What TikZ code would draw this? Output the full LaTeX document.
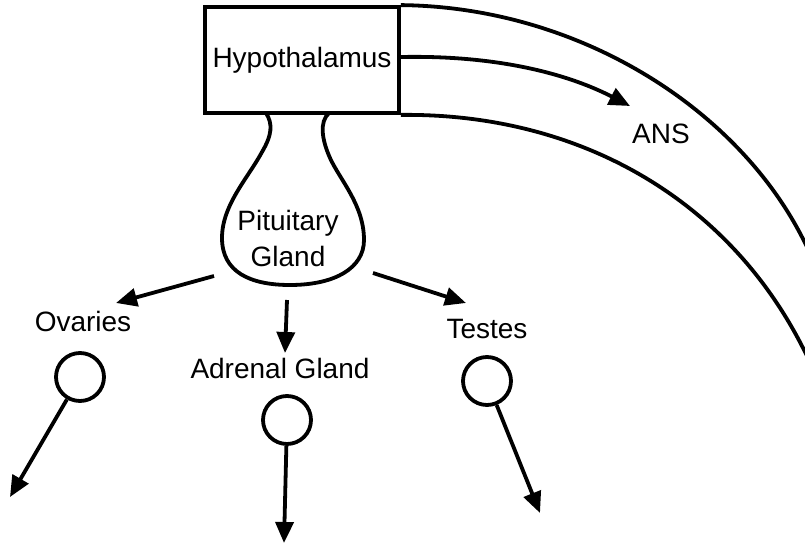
\documentclass[tikz,border=0pt]{standalone}
\usepackage{fontspec}
\setmainfont{Liberation Sans}
\usetikzlibrary{arrows.meta}
\begin{document}
\begin{tikzpicture}[x=1pt,y=-1pt,
  ln/.style={line width=3.8pt},
  arr/.style={ln, -{Triangle[length=21pt,width=18pt]}},
  lbl/.style={font=\fontsize{28}{36}\selectfont, inner sep=0pt},
  gland/.style={circle, draw, line width=3.8pt, minimum size=48pt, inner sep=0pt}]
\useasboundingbox (0,0) rectangle (805,548);
\clip (0,0) rectangle (805,548);

% Hypothalamus box
\node[draw, ln, lbl, minimum width=194pt, minimum height=106pt] (hyp) at (302,60) {Hypothalamus};

% curves to the right
\draw[ln] (hyp.north east) .. controls (580,7) and (740,110) .. (805,243) -- (815,263);
\draw[ln] (hyp.south east) .. controls (580,113) and (730,200) .. (805,352) -- (815,372);
\coordinate (ansTip) at (630,106);
\draw[arr] ([yshift=3pt]hyp.east) .. controls (500,55) and (570,75) .. (ansTip);
\node[lbl, anchor=base] (ans) at (661,144) {ANS};

% Pituitary gland outline
\draw[ln] (266,113) .. controls (273,124) and (272,135) .. (262,152)
  .. controls (248,178) and (222,205) .. (222,238)
  .. controls (222,272) and (250,285) .. (290,285)
  .. controls (335,285) and (364,268) .. (364,240)
  .. controls (364,205) and (340,180) .. (330,158)
  .. controls (322,140) and (319,122) .. (329,113);
\node[lbl, align=center] (pit) at (288,238) {Pituitary\\Gland};

% arrows from pituitary
\coordinate (pL) at (214,276);
\coordinate (pM) at (287,300);
\coordinate (pR) at (373,273);
\coordinate (tL) at (116,303);
\coordinate (tM) at (285,353);
\coordinate (tR) at (466,303);
\draw[arr] (pL) -- (tL);
\draw[arr] (pM) -- (tM);
\draw[arr] (pR) -- (tR);

% labels
\node[lbl, anchor=base] (ovl) at (83,331) {Ovaries};
\node[lbl, anchor=base] (adl) at (280,378) {Adrenal Gland};
\node[lbl, anchor=base] (tel) at (487,338) {Testes};

% glands
\node[gland] (ov) at (80,377) {};
\node[gland] (ad) at (287,420) {};
\node[gland] (te) at (487,381) {};
\coordinate (eO) at (10,497);
\coordinate (eA) at (284,543);
\coordinate (eT) at (540,513);
\draw[arr] (ov) -- (eO);
\draw[arr] (ad) -- (eA);
\draw[arr] (te) -- (eT);
\end{tikzpicture}
\end{document}
